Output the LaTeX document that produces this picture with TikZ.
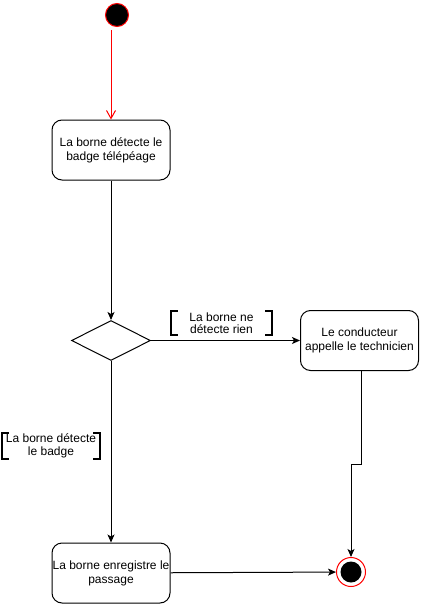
\documentclass[tikz,border=0pt]{standalone}
\usepackage{fontspec}
\setmainfont{Liberation Sans}
\usetikzlibrary{shapes.geometric,arrows.meta}

\tikzset{
	activity/.style={draw, rounded corners=10pt, line width=1pt, minimum width=118pt,
		minimum height=60pt, inner xsep=0.5pt, align=center,
		font=\fontsize{12}{14}\selectfont},
	choice/.style={draw, diamond, line width=1pt, minimum width=79pt,
		minimum height=40pt, inner sep=0pt},
	guard/.style={minimum width=101pt, minimum height=23pt, inner sep=0pt,
		align=center, font=\fontsize{12}{12.5}\selectfont},
	bracket/.style={line width=2pt},
	initial/.style={circle, draw=red, fill=black, line width=1pt,
		minimum size=23pt, inner sep=0pt},
	final/.style={circle, draw=red, fill=white, line width=1pt,
		minimum size=29pt, inner sep=0pt,
		path picture={\fill[black] (path picture bounding box.center) circle (10.5pt);}}
}

\begin{document}
\begin{tikzpicture}[x=1pt,y=-1pt]
		\useasboundingbox (0,0) rectangle (423,605);
		\node[initial] (S) at (117,15) {};
		\node[activity] (B1) at (111,150) {La borne détecte le\\badge télépéage};
		\node[choice] (D) at (111,340.5) {};
		\node[activity] (B2) at (359.5,340.5) {Le conducteur\\appelle le technicien};
		\node[activity] (B3) at (111,573) {La borne enregistre le\\passage};
		\node[final] (F) at (351,572) {};
		\coordinate (J) at (361,464);
		%
		% guards
		\node[guard] (G1) at (221.5,323) {La borne ne\\détecte rien};
		\node[guard, minimum width=98pt, minimum height=26pt] (G2) at (51,446) {La borne détecte\\le badge};
		\draw[bracket] ([xshift=7pt]G1.north west) -- (G1.north west) -- (G1.south west) -- ([xshift=7pt]G1.south west);
		\draw[bracket] ([xshift=-7pt]G1.north east) -- (G1.north east) -- (G1.south east) -- ([xshift=-7pt]G1.south east);
		\draw[bracket] ([xshift=7pt]G2.north west) -- (G2.north west) -- (G2.south west) -- ([xshift=7pt]G2.south west);
		\draw[bracket] ([xshift=-7pt]G2.north east) -- (G2.north east) -- (G2.south east) -- ([xshift=-7pt]G2.south east);
		%
		\draw[red, line width=1pt, -{Straight Barb[length=8pt,width=9pt]}, shorten <=3pt]
		(S.south -| B1.north) -- (B1.north);
		\path[line width=1pt, -{Stealth[length=8pt,width=7pt,inset=2pt]}]
		% vertical arrows
		(B1) edge (D)
		(D) edge (B3)
		% horizontal arrows
		(D) edge (B2)
		(B3) edge (F);
		\draw[line width=1pt, -{Stealth[length=8pt,width=7pt,inset=2pt]}]
		(B2.south -| J) -- (J) -| (F);
	\end{tikzpicture}
\end{document}
